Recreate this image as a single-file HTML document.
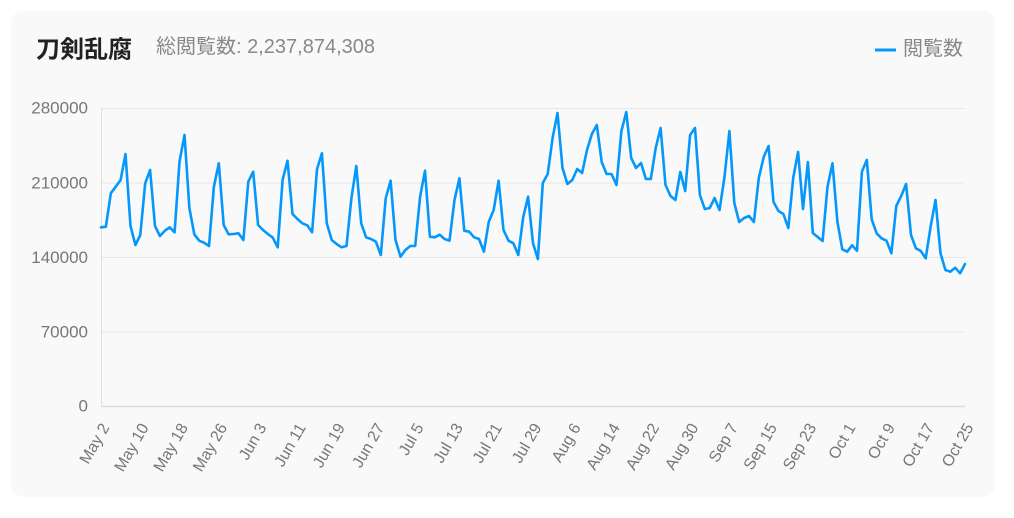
<!DOCTYPE html>
<html><head><meta charset="utf-8">
<style>
html,body{margin:0;padding:0;background:#fff;}
svg{display:block;}
text{font-family:"Liberation Sans","Noto Sans CJK JP",sans-serif;}
</style></head>
<body>
<svg width="1014" height="518" viewBox="0 0 1014 518" xmlns="http://www.w3.org/2000/svg">
<rect x="11" y="11" width="984" height="486" rx="12" ry="12" fill="#f9f9f9"/>
<text x="36" y="47" font-size="24" font-weight="bold" fill="#222" dominant-baseline="central" style="font-family:'Noto Sans CJK JP',sans-serif">刀剣乱腐</text>
<text x="156" y="47" font-size="20" fill="#888" dominant-baseline="central">総閲覧数: 2,237,874,308</text>
<line x1="875" y1="50" x2="896" y2="50" stroke="#0598fa" stroke-width="3"/>
<text x="903" y="49" font-size="20" fill="#888" dominant-baseline="central">閲覧数</text>
<g stroke="#e6e6e6" stroke-width="1">
<line x1="101" y1="108.5" x2="965" y2="108.5"/>
<line x1="101" y1="183" x2="965" y2="183"/>
<line x1="101" y1="257.5" x2="965" y2="257.5"/>
<line x1="101" y1="332" x2="965" y2="332"/>
</g>
<line x1="101.5" y1="108" x2="101.5" y2="406" stroke="#e0e0e0" stroke-width="1"/>
<line x1="101" y1="406.5" x2="965" y2="406.5" stroke="#dcdcdc" stroke-width="1.5"/>
<g font-size="17" fill="#777" text-anchor="end" dominant-baseline="central">
<text x="88" y="108">280000</text>
<text x="88" y="183">210000</text>
<text x="88" y="257.5">140000</text>
<text x="88" y="332">70000</text>
<text x="88" y="406">0</text>
</g>
<g font-size="16" fill="#777" text-anchor="end" dominant-baseline="central">
<text transform="translate(106,425) rotate(-60)">May 2</text>
<text transform="translate(145.3,425) rotate(-60)">May 10</text>
<text transform="translate(184.5,425) rotate(-60)">May 18</text>
<text transform="translate(223.8,425) rotate(-60)">May 26</text>
<text transform="translate(263.1,425) rotate(-60)">Jun 3</text>
<text transform="translate(302.4,425) rotate(-60)">Jun 11</text>
<text transform="translate(341.6,425) rotate(-60)">Jun 19</text>
<text transform="translate(380.9,425) rotate(-60)">Jun 27</text>
<text transform="translate(420.2,425) rotate(-60)">Jul 5</text>
<text transform="translate(459.5,425) rotate(-60)">Jul 13</text>
<text transform="translate(498.7,425) rotate(-60)">Jul 21</text>
<text transform="translate(538,425) rotate(-60)">Jul 29</text>
<text transform="translate(577.3,425) rotate(-60)">Aug 6</text>
<text transform="translate(616.5,425) rotate(-60)">Aug 14</text>
<text transform="translate(655.8,425) rotate(-60)">Aug 22</text>
<text transform="translate(695.1,425) rotate(-60)">Aug 30</text>
<text transform="translate(734.4,425) rotate(-60)">Sep 7</text>
<text transform="translate(773.6,425) rotate(-60)">Sep 15</text>
<text transform="translate(812.9,425) rotate(-60)">Sep 23</text>
<text transform="translate(852.2,425) rotate(-60)">Oct 1</text>
<text transform="translate(891.5,425) rotate(-60)">Oct 9</text>
<text transform="translate(930.7,425) rotate(-60)">Oct 17</text>
<text transform="translate(970,425) rotate(-60)">Oct 25</text>
</g>
<polyline fill="none" stroke="#0598fa" stroke-width="2.6" stroke-linejoin="round" stroke-linecap="round" points="
101,227.3 105.9,226.7 110.8,193.3 115.7,186.7 120.6,180 125.5,154 130.5,226 135.4,245 140.3,235 145.2,183.3
150.1,170 155,226 159.9,236 164.8,230.7 169.7,227.3 174.6,232.3 179.5,161.7 184.5,135 189.4,208.3 194.3,234.3
199.2,240.7 204.1,242.7 209,246 213.9,186.7 218.8,163.3 223.7,225 228.6,234.3 233.5,234 238.5,233.3 243.4,240
248.3,181.7 253.2,171.7 258.1,225 263,230 267.9,234 272.8,237.7 277.7,247.3 282.6,180 287.5,160.7 292.5,214
297.4,219 302.3,223.3 307.2,225.3 312.1,232.3 317,169.3 321.9,153.3 326.8,223.3 331.7,240 336.6,244 341.5,247.3
346.5,246 351.4,198.3 356.3,166 361.2,223.3 366.1,237.3 371,239 375.9,241.7 380.8,255 385.7,198.3 390.6,180.7
395.5,240 400.5,256.7 405.4,250 410.3,246 415.2,246 420.1,196.7 425,170.7 429.9,236.7 434.8,237.3 439.7,234.7
444.6,239 449.5,240.7 454.5,200 459.4,178.3 464.3,230.7 469.2,231.7 474.1,237.3 479,239 483.9,251.7 488.8,221.7
493.7,210 498.6,180.7 503.5,230 508.5,240.7 513.4,243.3 518.3,255 523.2,217.3 528.1,196.7 533,243.3 537.9,259
542.8,183 547.7,174 552.6,138 557.5,113 562.5,168 567.4,184 572.3,180 577.2,169 582.1,173 587,150
591.9,134 596.8,125 601.7,162 606.6,174 611.5,174 616.5,185 621.4,131 626.3,112 631.2,158 636.1,168
641,163 645.9,179 650.8,179 655.7,148 660.6,128 665.5,185 670.5,196 675.4,200 680.3,172 685.2,191
690.1,135 695,128 699.9,195 704.8,209 709.7,208 714.6,198 719.5,210 724.5,177 729.4,131 734.3,203
739.2,222 744.1,218 749,216 753.9,222 758.8,178 763.7,157 768.6,146 773.5,202 778.5,211 783.4,214
788.3,228 793.2,178 798.1,152 803,209 807.9,162 812.8,233 817.7,237 822.6,241 827.5,186.7 832.5,163.3
837.4,221.7 842.3,249.3 847.2,251.7 852.1,245.3 857,250.7 861.9,171.7 866.8,160 871.7,219.3 876.6,233.3 881.5,238.3
886.5,240.7 891.4,253.3 896.3,206 901.2,196 906.1,184 911,235 915.9,248.3 920.8,251 925.7,258.3 930.6,226.7
935.5,200 940.5,253.3 945.4,270 950.3,271.7 955.2,267.7 960.1,273.3 965,264"/>
</svg>
</body></html>
